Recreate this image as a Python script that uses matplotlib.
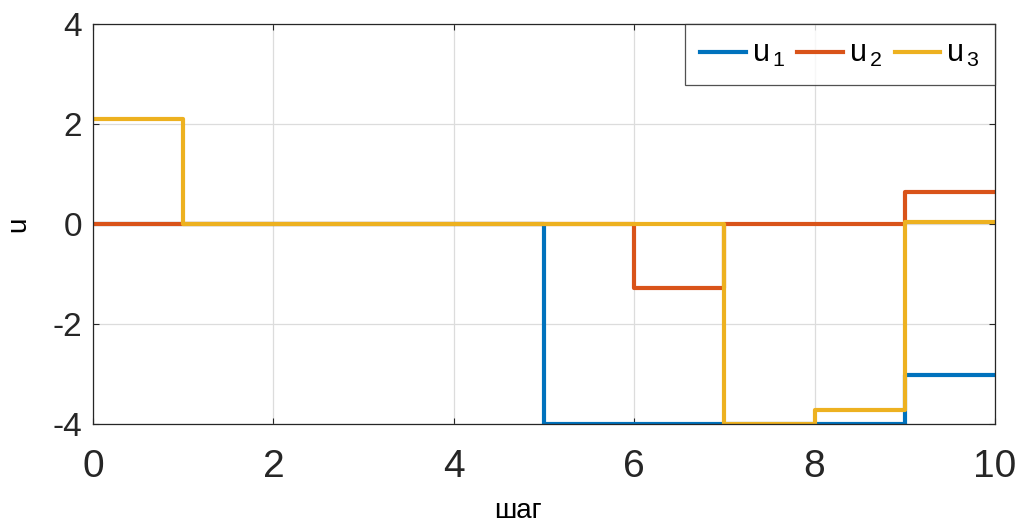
import numpy as np
import matplotlib
matplotlib.use('Agg')
import matplotlib.pyplot as plt

plt.rcParams['font.family'] = ['Liberation Sans', 'DejaVu Sans']
plt.rcParams['axes.unicode_minus'] = False
plt.rcParams['mathtext.fontset'] = 'custom'
plt.rcParams['mathtext.rm'] = 'Liberation Sans'
plt.rcParams['mathtext.it'] = 'Liberation Sans'

# control inputs per step (stairs, value held until next step)
steps = np.arange(0, 11)
u1 = [0, 0, 0, 0, 0, -4, -4, -4, -4, -3.02, -3.02]
u2 = [0, 0, 0, 0, 0, 0, -1.28, 0, 0, 0.65, 0.65]
u3 = [2.1, 0, 0, 0, 0, 0, 0, -4, -3.72, 0.04, 0.04]
labels = [r'$\mathregular{u_{\,1}}$', r'$\mathregular{u_{\,2}}$', r'$\mathregular{u_{\,3}}$']
colors = ['#0072BD', '#D95319', '#EDB120']

fig = plt.figure(figsize=(10.21, 5.22), dpi=100)
ax = fig.add_axes([0.0911, 0.1877, 0.8834, 0.7663])

for y, lab, c in zip([u1, u2, u3], labels, colors):
    ax.step(steps, y, where='post', color=c, lw=3, label=lab)

ax.set_xlim(0, 10)
ax.set_ylim(-4, 4)
ax.set_xticks(np.arange(0, 11, 2))
ax.set_yticks(np.arange(-4, 5, 2))
ax.grid(True, color='#dcdcdc', lw=0.9)
ax.set_axisbelow(True)
for s in ax.spines.values():
    s.set_color('#262626')
    s.set_linewidth(0.9)
ax.tick_params(direction='in', length=4, width=0.8, top=True, right=True, colors='#262626')
ax.tick_params(axis='x', labelsize=28, pad=18)
ax.tick_params(axis='y', labelsize=24, pad=8)

ax.set_xlabel('шаг', fontsize=20)
ax.xaxis.set_label_coords(0.471, -0.185)
ax.set_ylabel('u', fontsize=20)
ax.yaxis.set_label_coords(-0.068, 0.5)

leg = ax.legend(loc='upper right', ncol=3, fontsize=22, frameon=True, fancybox=False,
                borderaxespad=0, handlelength=1.5, handletextpad=0.2, columnspacing=0.4,
                borderpad=0.5)
leg.get_frame().set_edgecolor('#262626')
leg.get_frame().set_linewidth(0.9)

fig.savefig('out.png', dpi=100, facecolor='white')
